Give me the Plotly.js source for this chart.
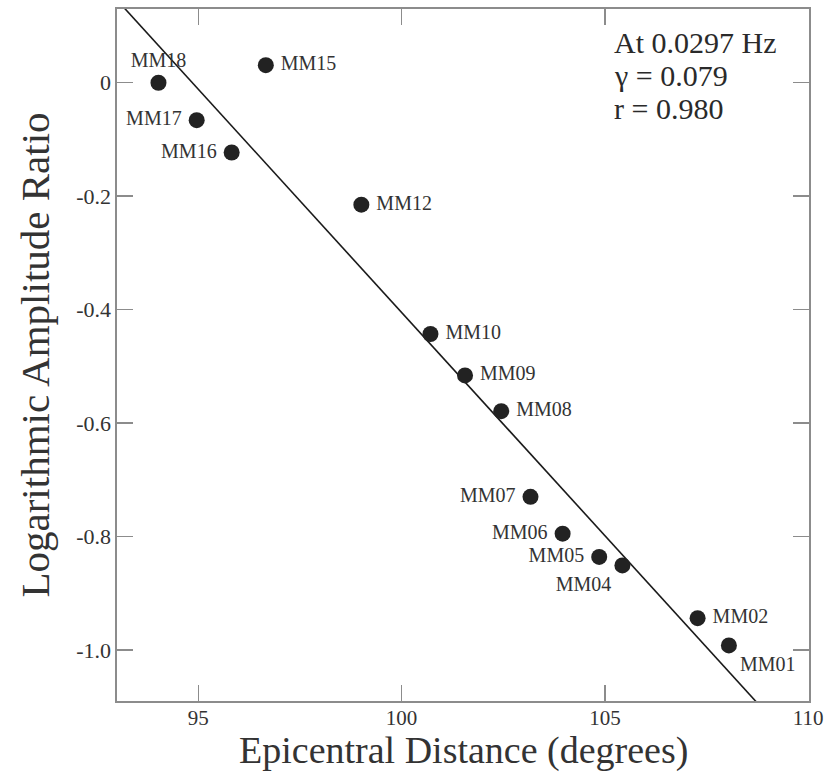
<!DOCTYPE html>
<html>
<head>
<meta charset="utf-8">
<script src="https://cdn.plot.ly/plotly-3.0.1.min.js"></script>
<style>html,body{margin:0;padding:0;background:#fff;}#chart{width:839px;height:774px;}</style>
</head>
<body>
<div id="chart"></div>
<script>
// Station labels
var stations = ["MM18","MM17","MM16","MM15","MM12","MM10","MM09","MM08","MM07","MM06","MM05","MM04","MM02","MM01"];
// Epicentral distance (degrees)
var distance = [94.02, 94.96, 95.82, 96.66, 99.01, 100.71, 101.56, 102.45, 103.17, 103.96, 104.86, 105.43, 107.28, 108.05];
// Logarithmic amplitude ratio
var logRatio = [0.0, -0.066, -0.123, 0.031, -0.215, -0.443, -0.516, -0.579, -0.730, -0.795, -0.836, -0.851, -0.944, -0.992];
// Label placement per station
var labelPos = ["top center","middle left","middle left","middle right","middle right","middle right","middle right","middle right","middle left","middle left","middle left","bottom left","middle right","bottom right"];
// Fitted line: y = intercept + slope * x
var fitSlope = -0.0787;
var fitIntercept = 7.465;
var fitX = [93, 110];
var fitY = fitX.map(function(x){ return fitIntercept + fitSlope * x; });
// Ticks
var xTickVals = [95, 100, 105, 110];
var xTickText = ["95", "100", "105", "110"];
var yTickVals = [0, -0.2, -0.4, -0.6, -0.8, -1.0];
var yTickText = ["0", "-0.2", "-0.4", "-0.6", "-0.8", "-1.0"];
// Titles and info text
var xTitle = "Epicentral Distance (degrees)";
var yTitle = "Logarithmic Amplitude Ratio";
var infoLines = ["At 0.0297 Hz", "\u03b3 = 0.079", "r = 0.980"];

var serif = "Liberation Serif, Times New Roman, serif";

var labelText = stations.map(function(s, i){
  var p = labelPos[i];
  if (p.indexOf("right") >= 0 && p.indexOf("middle") >= 0) return "\u2009" + s;
  if (p.indexOf("left") >= 0 && p.indexOf("middle") >= 0) return s + "\u2009";
  return s;
});

var traces = [
  {
    x: fitX, y: fitY, mode: "lines", type: "scatter",
    line: {color: "#1a1a1a", width: 1.6},
    hoverinfo: "skip", showlegend: false
  },
  {
    x: distance, y: logRatio, mode: "markers+text", type: "scatter",
    text: labelText, textposition: labelPos,
    textfont: {family: serif, size: 20, color: "#333"},
    marker: {color: "#222", size: 16},
    cliponaxis: false, showlegend: false
  }
];

var annotations = infoLines.map(function(t, i){
  return {
    xref: "paper", yref: "paper", x: 0.716, y: 1 - (0.022 + i * 0.0475),
    xanchor: "left", yanchor: "top", showarrow: false, text: t,
    font: {family: serif, size: 30, color: "#2a2a2a"}
  };
});
annotations.push({
  xref: "paper", yref: "paper", x: 0.5, y: -0.0385, xanchor: "center", yanchor: "top",
  showarrow: false, borderpad: 0, text: xTitle, font: {family: serif, size: 38, color: "#333"}
});

var axisCommon = {
  showgrid: false, zeroline: false, showline: true, linecolor: "#8c8c8c", linewidth: 1.6,
  mirror: "ticks", ticks: "inside", ticklen: 16, tickwidth: 1.4, tickcolor: "#8c8c8c",
  tickfont: {family: serif, size: 22, color: "#333"}, automargin: false
};

var layout = {
  width: 839, height: 774,
  margin: {l: 117, r: 30, t: 9, b: 73},
  paper_bgcolor: "#fff", plot_bgcolor: "#fff",
  xaxis: Object.assign({}, axisCommon, {
    range: [93, 110.02], tickmode: "array", tickvals: xTickVals, ticktext: xTickText,
    tickfont: {family: serif, size: 21, color: "#333"}, ticklabelstandoff: -3
  }),
  yaxis: Object.assign({}, axisCommon, {
    range: [-1.09, 0.13], tickmode: "array", tickvals: yTickVals, ticktext: yTickText,
    title: {text: yTitle, font: {family: serif, size: 41, color: "#333"}, standoff: 14}
  }),
  annotations: annotations,
  showlegend: false
};

Plotly.newPlot("chart", traces, layout, {displayModeBar: false, staticPlot: true});
</script>
</body>
</html>
